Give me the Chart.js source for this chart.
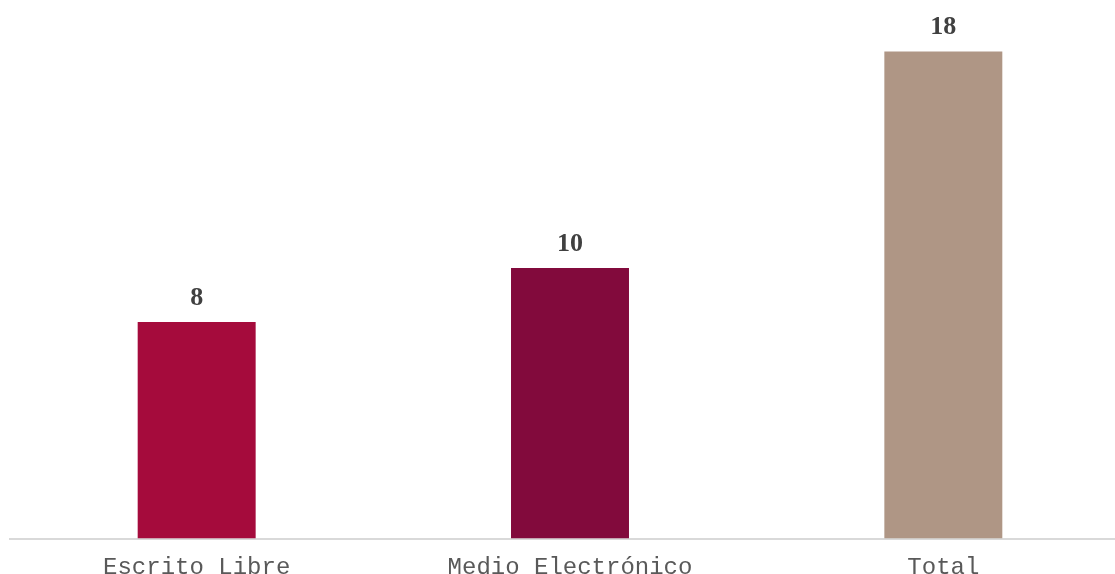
<!DOCTYPE html>
<html>
<head>
<meta charset="utf-8">
<script src="https://cdn.jsdelivr.net/npm/chart.js@4/dist/chart.umd.min.js"></script>
<style>
  html, body { margin: 0; padding: 0; background: #ffffff; overflow: hidden; }
  #wrap { width: 1130px; height: 574px; position: relative; }
</style>
</head>
<body>
<div id="wrap"><canvas id="chart"></canvas></div>
<script>
const categories = ["Escrito Libre", "Medio Electrónico", "Total"];
const values = [8, 10, 18];
const barColors = ["#A50B3C", "#820A3C", "#AF9685"];

// etiquetas encima de cada barra
const valueLabels = {
  id: "valueLabels",
  afterDatasetsDraw(chart) {
    const ctx = chart.ctx;
    const meta = chart.getDatasetMeta(0);
    ctx.save();
    ctx.font = "bold 26px 'Liberation Serif', serif";
    ctx.fillStyle = "#404040";
    ctx.textAlign = "center";
    ctx.textBaseline = "alphabetic";
    meta.data.forEach((bar, i) => {
      ctx.fillText(String(values[i]), bar.x, bar.y - 17);
    });
    ctx.restore();
  }
};

const chart = new Chart(document.getElementById("chart").getContext("2d"), {
  type: "bar",
  data: {
    labels: categories,
    datasets: [{
      data: values,
      backgroundColor: barColors,
      barPercentage: 0.316,
      categoryPercentage: 1
    }]
  },
  options: {
    responsive: true,
    maintainAspectRatio: false,
    animation: false,
    layout: { padding: { left: 10, right: 0, top: 0, bottom: -15 } },
    plugins: { legend: { display: false }, tooltip: { enabled: false } },
    scales: {
      x: {
        grid: { display: false },
        border: { display: true, color: "#d9d9d9", width: 2 },
        ticks: {
          color: "#595959",
          font: { family: "'Liberation Mono', monospace", size: 24, lineHeight: 0.6 },
          padding: 14
        }
      },
      y: {
        display: false,
        min: 0,
        max: 19.9
      }
    }
  },
  plugins: [valueLabels]
});
</script>
</body>
</html>
